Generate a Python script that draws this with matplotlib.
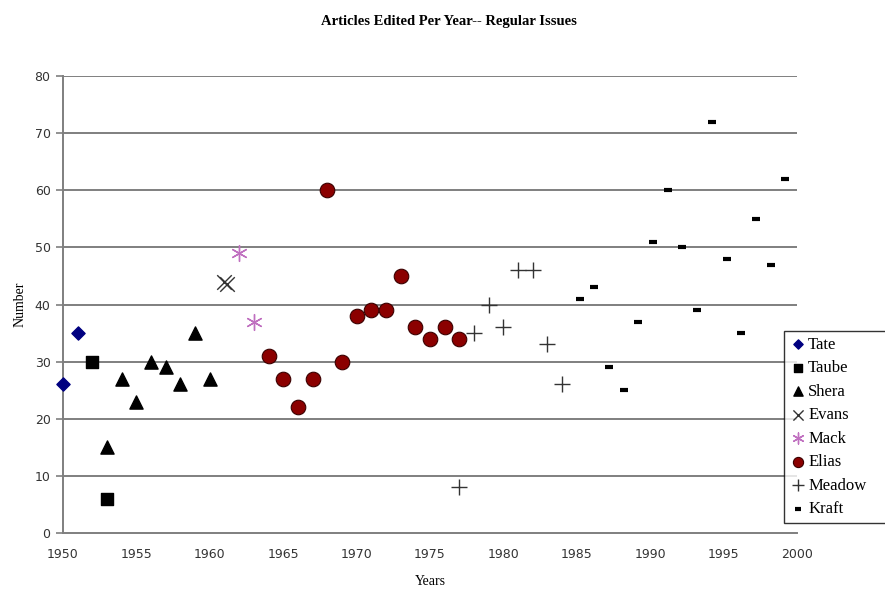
import matplotlib
matplotlib.use("Agg")
import matplotlib.pyplot as plt

# Articles edited per year, by editor
tate_years = [1950, 1951]
tate_vals = [26, 35]

taube_years = [1952, 1953]
taube_vals = [30, 6]

shera_years = [1953, 1954, 1955, 1956, 1957, 1958, 1959, 1960]
shera_vals = [15, 27, 23, 30, 29, 26, 35, 27]

evans_years = [1961.0, 1961.2]
evans_vals = [44, 43.6]

mack_years = [1962, 1963]
mack_vals = [49, 37]

elias_years = [1964, 1965, 1966, 1967, 1968, 1969, 1970, 1971, 1972, 1973,
               1974, 1975, 1976, 1977]
elias_vals = [31, 27, 22, 27, 60, 30, 38, 39, 39, 45, 36, 34, 36, 34]

meadow_years = [1977, 1978, 1979, 1980, 1981, 1982, 1983, 1984]
meadow_vals = [8, 35, 40, 36, 46, 46, 33, 26]

kraft_years = [1985.2, 1986.2, 1987.2, 1988.2, 1989.2, 1990.2, 1991.2, 1992.2,
               1993.2, 1994.2, 1995.2, 1996.2, 1997.2, 1998.2, 1999.2]
kraft_vals = [41, 43, 29, 25, 37, 51, 60, 50, 39, 72, 48, 35, 55, 47, 62]

x_ticks = [1950, 1955, 1960, 1965, 1970, 1975, 1980, 1985, 1990, 1995, 2000]
y_ticks = [0, 10, 20, 30, 40, 50, 60, 70, 80]

serif = ["Liberation Serif", "DejaVu Serif"]
tick_font = ["DejaVu Sans"]

fig = plt.figure(figsize=(8.85, 5.91), dpi=100)
ax = fig.add_axes([63 / 885, 1 - 533 / 591, (797 - 63) / 885, (533 - 76) / 591])

grid_color = "#7f7f7f"
for v in y_ticks[1:]:
    ax.axhline(v, color=grid_color, lw=1.4, zorder=1)

common = dict(zorder=3, clip_on=False)
ax.scatter(tate_years, tate_vals, marker="D", s=45, color="#000080", label="Tate", **common)
ax.scatter(taube_years, taube_vals, marker="s", s=75, color="black", label="Taube", **common)
ax.scatter(shera_years, shera_vals, marker="^", s=90, color="black", label="Shera", **common)
ax.scatter(evans_years, evans_vals, marker="x", s=110, color="#333333", linewidths=1.0,
           label="Evans", **common)
ax.scatter(mack_years, mack_vals, marker=(6, 2, 0), s=130, color="#c070c0", linewidths=1.0,
           label="Mack", **common)
ax.scatter(elias_years, elias_vals, marker="o", s=110, color="#8b0000", edgecolors="#3a0000",
           linewidths=0.8, label="Elias", **common)
ax.scatter(meadow_years, meadow_vals, marker="+", s=130, color="#333333", linewidths=1.0,
           label="Meadow", **common)
ax.scatter(kraft_years, kraft_vals, marker="_", s=40, color="black", linewidths=3.0,
           label="Kraft", **common)

ax.set_xlim(1950, 2000)
ax.set_ylim(0, 80)
ax.set_xticks(x_ticks)
ax.set_yticks(y_ticks)
ax.set_xticklabels([str(t) for t in x_ticks], family=tick_font, fontsize=9, color="#333333")
ax.set_yticklabels([str(t) for t in y_ticks], family=tick_font, fontsize=9, color="#333333")
ax.tick_params(axis="x", length=0, pad=11)
ax.tick_params(axis="y", length=5, width=1.2, color=grid_color, pad=4)

for side in ("top", "right"):
    ax.spines[side].set_visible(False)
for side in ("left", "bottom"):
    ax.spines[side].set_color(grid_color)
    ax.spines[side].set_linewidth(1.4)

ax.set_xlabel("Years", family=serif, fontsize=10, labelpad=10)
ax.set_ylabel("Number", family=serif, fontsize=10, labelpad=6)

fig.text(0.507, 1 - 22 / 591, "Articles Edited Per Year-- Regular Issues", family=serif,
         fontsize=10.5, fontweight="bold", ha="center", va="center")

leg = fig.legend(loc="upper left", bbox_to_anchor=(784 / 885, 1 - 331 / 591, 120 / 885, 0),
                 mode="expand",
                 prop={"family": serif, "size": 12}, frameon=True, fancybox=False,
                 edgecolor="black", borderpad=0.35, labelspacing=0.45, handletextpad=0.1,
                 handlelength=1.0, borderaxespad=0.0, markerscale=0.7)
leg.get_frame().set_linewidth(1.0)

fig.savefig("out.png", dpi=100)
